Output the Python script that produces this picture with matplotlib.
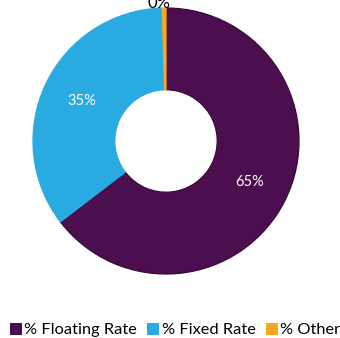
import numpy as np
import matplotlib
matplotlib.use("Agg")
import matplotlib.pyplot as plt
from matplotlib.patches import Patch

plt.rcParams["font.family"] = ["Lato", "DejaVu Sans"]

categories = ["% Floating Rate", "% Fixed Rate", "% Other"]
shares = [64.6, 34.95, 0.45]
colors = ["#4b0e4e", "#29abe2", "#f7a823"]
edge_colors = ["#3a083c", "#29abe2", "#f7a823"]

W, H, DPI = 340, 338, 100
fig = plt.figure(figsize=(W / DPI, H / DPI), dpi=DPI)

cx, cy, r = 166, 141, 133  # donut centre and radius in pixels (y from top)
ax = fig.add_axes([(cx - r) / W, (H - cy - r) / H, 2 * r / W, 2 * r / H])

wedges, _, autotexts = ax.pie(
    shares,
    colors=colors,
    startangle=90,
    counterclock=False,
    autopct=lambda p: f"{p:.0f}%",
    pctdistance=0.70,
    wedgeprops=dict(width=0.615, linewidth=0.9),
    textprops=dict(color="white", fontsize=10.5),
)
for w, ec in zip(wedges, edge_colors):
    w.set_edgecolor(ec)

# small slice: label outside the ring in black
w = wedges[2]
theta = np.deg2rad((w.theta1 + w.theta2) / 2)
autotexts[2].set_position((1.04 * np.cos(theta) - 0.035, 1.04 * np.sin(theta)))
autotexts[2].set_color("black")
autotexts[2].set_fontsize(12)
autotexts[2].set_clip_on(False)

ax.set_xlim(-1, 1)
ax.set_ylim(-1, 1)
ax.axis("off")

handles = [Patch(facecolor=c, edgecolor="none") for c in colors]
fig.legend(
    handles,
    categories,
    loc="center",
    bbox_to_anchor=(0.515, 1 - 330 / H),
    ncol=3,
    frameon=False,
    fontsize=11.8,
    handlelength=0.75,
    handleheight=0.75,
    handletextpad=0.15,
    columnspacing=0.6,
    borderpad=0,
)

fig.savefig("out.png", dpi=DPI)
